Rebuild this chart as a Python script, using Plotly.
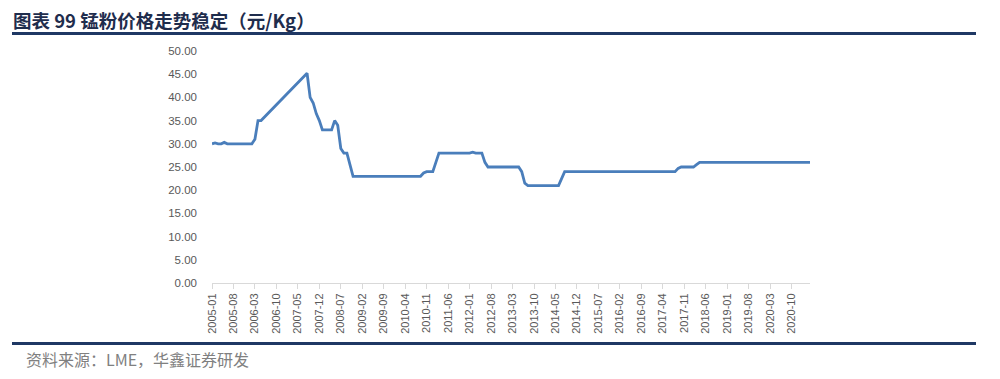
import plotly.graph_objects as go

# ---- data ----
years = list(range(2005, 2022))
months = [f"{y}-{m:02d}" for y in years for m in range(1, 13)][:196]  # 2005-01 .. 2021-04

price = [
    # 2005
    30.0, 30.2, 30.0, 30.0, 30.3, 30.0, 30.0, 30.0, 30.0, 30.0, 30.0, 30.0,
    # 2006
    30.0, 30.0, 31.0, 35.0, 35.0, None, None, None, None, None, None, None,
    # 2007
    None, None, None, None, None, None, None, 45.2, 40.0, 38.8, 36.5, 35.0,
    # 2008
    33.0, 33.0, 33.0, 33.0, 35.0, 34.0, 29.0, 28.0, 28.0, 25.5, 23.0, 23.0,
    # 2009
    23.0, 23.0, 23.0, 23.0, 23.0, 23.0, 23.0, 23.0, 23.0, 23.0, 23.0, 23.0,
    # 2010
    23.0, 23.0, 23.0, 23.0, 23.0, 23.0, 23.0, 23.0, 23.0, 23.7, 24.0, 24.0,
    # 2011
    24.0, 26.0, 28.0, 28.0, 28.0, 28.0, 28.0, 28.0, 28.0, 28.0, 28.0, 28.0,
    # 2012
    28.0, 28.2, 28.0, 28.0, 28.0, 26.0, 25.0, 25.0, 25.0, 25.0, 25.0, 25.0,
    # 2013
    25.0, 25.0, 25.0, 25.0, 25.0, 24.0, 21.5, 21.0, 21.0, 21.0, 21.0, 21.0,
    # 2014
    21.0, 21.0, 21.0, 21.0, 21.0, 21.0, 22.5, 24.0, 24.0, 24.0, 24.0, 24.0,
    # 2015
    24.0, 24.0, 24.0, 24.0, 24.0, 24.0, 24.0, 24.0, 24.0, 24.0, 24.0, 24.0,
    # 2016
    24.0, 24.0, 24.0, 24.0, 24.0, 24.0, 24.0, 24.0, 24.0, 24.0, 24.0, 24.0,
    # 2017
    24.0, 24.0, 24.0, 24.0, 24.0, 24.0, 24.0, 24.0, 24.7, 25.0, 25.0, 25.0,
    # 2018
    25.0, 25.0, 25.5, 26.0, 26.0, 26.0, 26.0, 26.0, 26.0, 26.0, 26.0, 26.0,
    # 2019
    26.0, 26.0, 26.0, 26.0, 26.0, 26.0, 26.0, 26.0, 26.0, 26.0, 26.0, 26.0,
    # 2020
    26.0, 26.0, 26.0, 26.0, 26.0, 26.0, 26.0, 26.0, 26.0, 26.0, 26.0, 26.0,
    # 2021
    26.0, 26.0, 26.0, 26.0,
]

tick_idx = list(range(0, 196, 7))
tick_text = [months[i] for i in tick_idx]
y_ticks = [0, 5, 10, 15, 20, 25, 30, 35, 40, 45, 50]

title_text = "图表 99 锰粉价格走势稳定（元/Kg）"
source_text = "资料来源：LME，华鑫证券研发"

# ---- layout geometry (page has an 8px body margin) ----
OFF = 8
W, H = 1000 - OFF, 379 - OFF
L, R, T, B = 212 - OFF, 190, 51 - OFF, 96
PW, PH = W - L - R, H - T - B


def px(x):  # absolute page pixel -> paper coordinate
    return (x - OFF - L) / PW


def py(y):
    return (H - B - (y - OFF)) / PH


fig = go.Figure()
fig.add_trace(go.Scatter(
    x=list(range(len(price))), y=price, mode="lines",
    connectgaps=True,
    line=dict(color="#4a7ebb", width=2.8),
    hoverinfo="skip", showlegend=False,
))

fig.update_layout(
    width=W, height=H,
    margin=dict(l=L, r=R, t=T, b=B, pad=0),
    paper_bgcolor="white", plot_bgcolor="white",
    font=dict(family="Liberation Sans, Arial, sans-serif", color="#595959"),
    xaxis=dict(
        range=[0, 195], tickmode="array", tickvals=tick_idx, ticktext=tick_text,
        tickangle=-90, tickfont=dict(size=11, color="#595959"),
        showgrid=False, zeroline=False,
        showline=True, linecolor="#d9d9d9", linewidth=1,
        ticks="outside", ticklen=5, tickcolor="#d9d9d9",
    ),
    yaxis=dict(
        range=[0, 50], tickmode="array", tickvals=y_ticks, tickformat=".2f",
        tickfont=dict(size=11.5, color="#595959"),
        showgrid=False, zeroline=False, showline=False,
        ticks="", ticklabelstandoff=14,
    ),
    shapes=[
        dict(type="line", xref="paper", yref="paper",
             x0=px(12), x1=px(976), y0=py(33.5), y1=py(33.5),
             line=dict(color="#1f3864", width=3)),
        dict(type="line", xref="paper", yref="paper",
             x0=px(12), x1=px(976), y0=py(343.5), y1=py(343.5),
             line=dict(color="#1f3864", width=3)),
    ],
    annotations=[
        dict(text=f"<b>{title_text}</b>", xref="paper", yref="paper",
             x=px(12), y=py(20), xanchor="left", yanchor="middle",
             showarrow=False, borderpad=0,
             font=dict(family="Noto Sans CJK SC", size=18.5, color="#1f2d4d")),
        dict(text=source_text, xref="paper", yref="paper",
             x=px(25), y=py(359), xanchor="left", yanchor="middle",
             showarrow=False, borderpad=0,
             font=dict(family="Noto Sans CJK SC", size=16, color="#808080")),
    ],
)

fig.write_html("out.html")
